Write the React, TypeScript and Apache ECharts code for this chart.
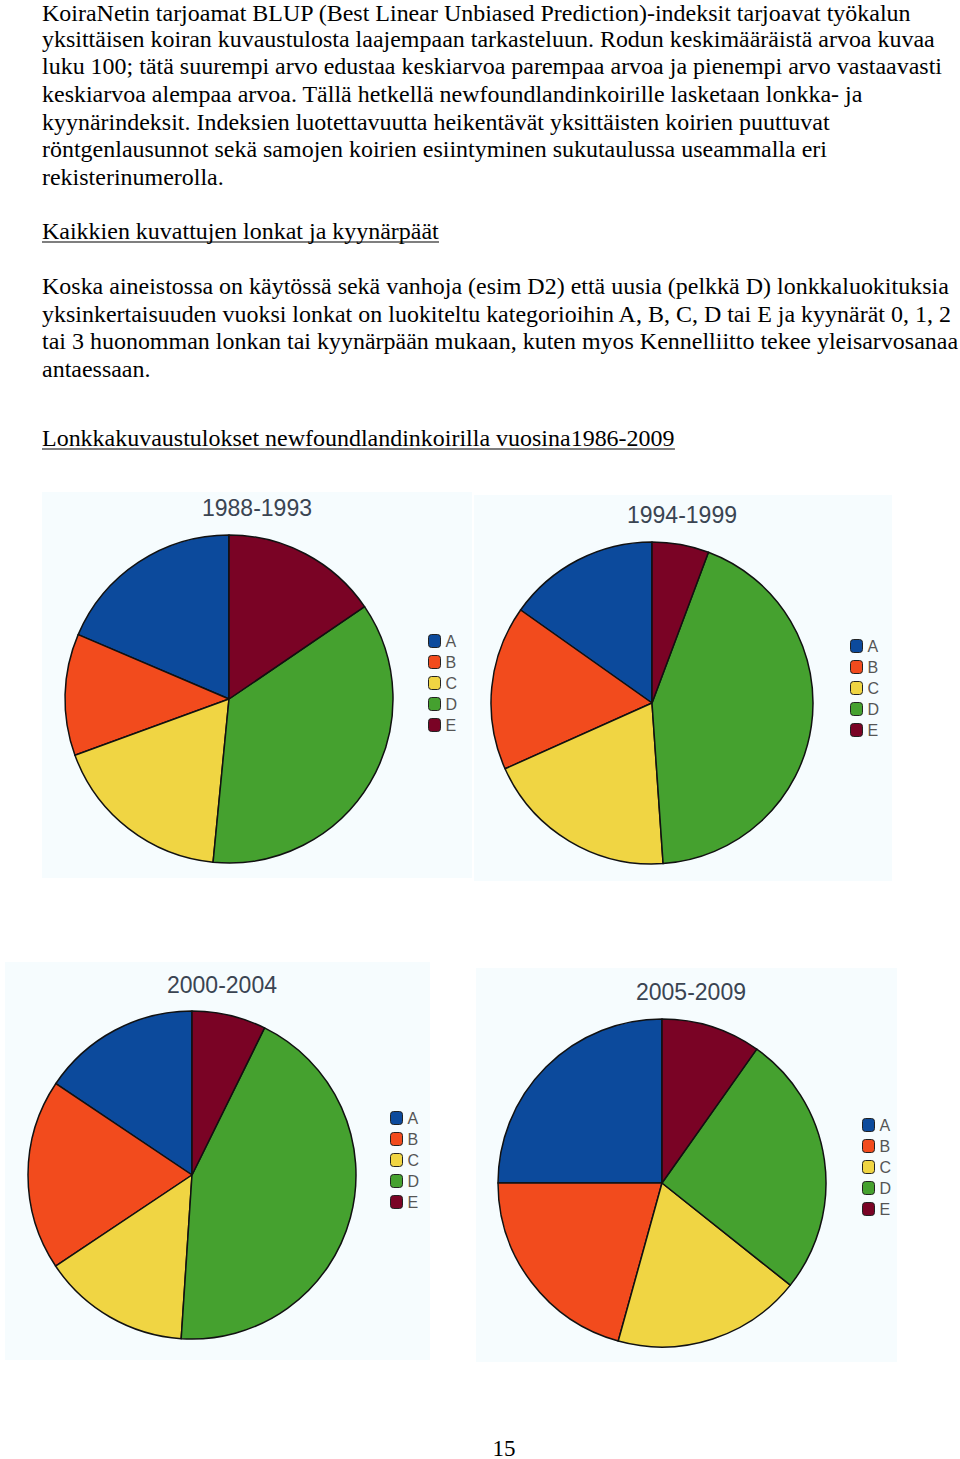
import React, { useEffect, useRef } from "react";
import * as echarts from "echarts";

const categories = ["A", "B", "C", "D", "E"];
const periods = ["1988-1993", "1994-1999", "2000-2004", "2005-2009"];
const share1988 = [18.6, 12.0, 17.9, 36.1, 15.5];
const share1994 = [15.2, 16.5, 19.4, 43.2, 5.7];
const share2000 = [15.6, 18.8, 14.6, 43.8, 7.3];
const share2005 = [25.0, 20.7, 18.6, 25.9, 9.8];
const shares = [share1988, share1994, share2000, share2005];

const colors = ["#0c4a9c", "#f24b1d", "#f0d543", "#45a12f", "#7a0325"];

const para1 = [
  "KoiraNetin tarjoamat BLUP (Best Linear Unbiased Prediction)-indeksit tarjoavat työkalun",
  "yksittäisen koiran kuvaustulosta laajempaan tarkasteluun. Rodun keskimääräistä arvoa kuvaa",
  "luku 100; tätä suurempi arvo edustaa keskiarvoa parempaa arvoa ja pienempi arvo vastaavasti",
  "keskiarvoa alempaa arvoa. Tällä hetkellä newfoundlandinkoirille lasketaan lonkka- ja",
  "kyynärindeksit. Indeksien luotettavuutta heikentävät yksittäisten koirien puuttuvat",
  "röntgenlausunnot sekä samojen koirien esiintyminen sukutaulussa useammalla eri",
  "rekisterinumerolla.",
];
const heading1 = "Kaikkien kuvattujen lonkat ja kyynärpäät";
const para2 = [
  "Koska aineistossa on käytössä sekä vanhoja (esim D2) että uusia (pelkkä D) lonkkaluokituksia",
  "yksinkertaisuuden vuoksi lonkat on luokiteltu kategorioihin A, B, C, D tai E ja kyynärät 0, 1, 2",
  "tai 3 huonomman lonkan tai kyynärpään mukaan, kuten myos Kennelliitto tekee yleisarvosanaa",
  "antaessaan.",
];
const heading2 = "Lonkkakuvaustulokset newfoundlandinkoirilla vuosina1986-2009";
const pageNumber = "15";

const SERIF = '"Liberation Serif", "Times New Roman", serif';
const SANS = '"Liberation Sans", Arial, sans-serif';
const FS = 23;

export default function App() {
  const ref = useRef<HTMLDivElement>(null);
  useEffect(() => {
    if (!ref.current) return;
    const chart = echarts.init(ref.current, null, { renderer: "svg" });

    const cv = document.createElement("canvas").getContext("2d")!;
    cv.font = `${FS}px ${SERIF}`;
    const measure = (s: string) => cv.measureText(s).width;
    const sx = 870 / measure(para1[0]);

    const graphics: any[] = [];
    const bgRects = [
      [42, 492, 430, 386],
      [474, 495, 418, 386],
      [5, 962, 425, 398],
      [476, 968, 421, 394],
    ];
    bgRects.forEach(([x, y, w, h]) =>
      graphics.push({
        type: "rect",
        shape: { x, y, width: w, height: h },
        style: { fill: "#f6fcfe" },
        z: -10,
      })
    );
    const addLine = (text: string, y: number, underline = false) => {
      graphics.push({
        type: "text",
        x: 42,
        y,
        scaleX: sx,
        style: {
          text,
          fontSize: FS,
          fontFamily: SERIF,
          fill: "#000",
          verticalAlign: "middle",
          align: "left",
        },
      });
      if (underline) {
        const w = measure(text) * sx;
        graphics.push({
          type: "line",
          shape: { x1: 42, y1: y + 11, x2: 42 + w, y2: y + 11 },
          style: { stroke: "#000", lineWidth: 1.2 },
        });
      }
    };
    const ys1 = [13, 39, 66, 94, 122, 149, 177];
    para1.forEach((t, i) => addLine(t, ys1[i]));
    addLine(heading1, 231, true);
    const ys2 = [286, 314, 341, 369];
    para2.forEach((t, i) => addLine(t, ys2[i]));
    addLine(heading2, 438, true);
    graphics.push({
      type: "text",
      x: 504,
      y: 1448,
      style: {
        text: pageNumber,
        fontSize: FS,
        fontFamily: SERIF,
        fill: "#000",
        verticalAlign: "middle",
        align: "center",
      },
    });

    const titlePos = [
      [257, 508],
      [682, 515],
      [222, 985],
      [691, 992],
    ];
    periods.forEach((p, i) =>
      graphics.push({
        type: "text",
        x: titlePos[i][0],
        y: titlePos[i][1],
        style: {
          text: p,
          fontSize: 23,
          fontFamily: SANS,
          fill: "#3a4452",
          verticalAlign: "middle",
          align: "center",
        },
      })
    );

    const pieGeom = [
      [229, 699, 164],
      [652, 703, 161],
      [192, 1175, 164],
      [662, 1183, 164],
    ];
    const legendPos = [
      [428, 633],
      [850, 638],
      [390, 1110],
      [862, 1117],
    ];

    const series = shares.map((vals, i) => ({
      type: "pie",
      name: periods[i],
      center: [pieGeom[i][0], pieGeom[i][1]],
      radius: pieGeom[i][2],
      startAngle: 90,
      clockwise: false,
      label: { show: false },
      labelLine: { show: false },
      emphasis: { disabled: true },
      itemStyle: { borderColor: "#111", borderWidth: 1.5 },
      data: categories.map((c, k) => ({
        name: c,
        value: vals[k],
        itemStyle: { color: colors[k] },
      })),
    }));

    const legends = legendPos.map(([l, t]) => ({
      orient: "vertical",
      left: l,
      top: t,
      padding: 0,
      itemWidth: 12,
      itemHeight: 13,
      itemGap: 5,
      icon: "roundRect",
      selectedMode: false,
      itemStyle: { borderColor: "#222", borderWidth: 1 },
      textStyle: { fontSize: 16, fontFamily: SANS, color: "#555" },
      data: categories,
    }));

    chart.setOption({
      animation: false,
      backgroundColor: "#ffffff",
      graphic: { elements: graphics },
      legend: legends,
      series,
    });
    return () => chart.dispose();
  }, []);

  return (
    <div
      ref={ref}
      style={{ position: "absolute", left: 0, top: 0, width: 960, height: 1459 }}
    />
  );
}
